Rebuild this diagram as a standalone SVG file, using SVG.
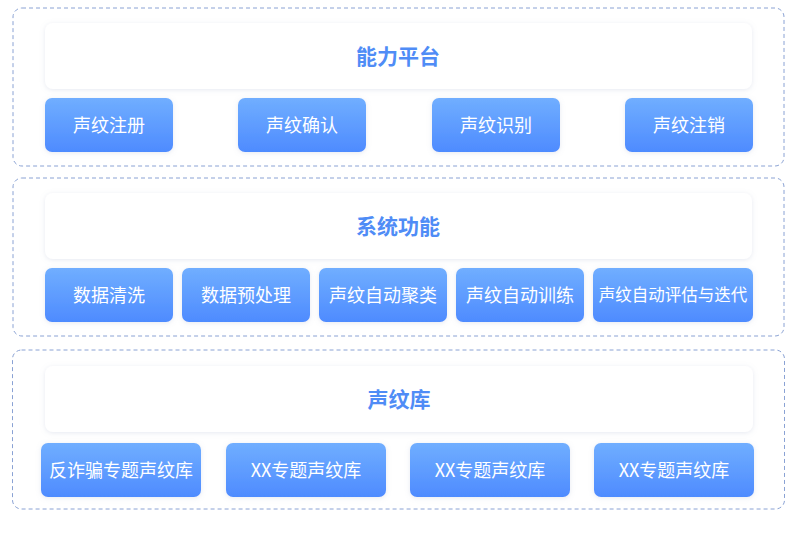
<svg xmlns="http://www.w3.org/2000/svg" width="800" height="537" viewBox="0 0 800 537">
<defs>
<linearGradient id="btn" x1="0" y1="0" x2="0" y2="1">
<stop offset="0" stop-color="#70aeff"/>
<stop offset="1" stop-color="#4e8bff"/>
</linearGradient>
<filter id="sh" x="-10%" y="-30%" width="120%" height="160%">
<feDropShadow dx="0" dy="1" stdDeviation="2.5" flood-color="#9aa8c8" flood-opacity="0.25"/>
</filter>
</defs>
<style>
.outer{fill:#fff;stroke:#8aa2d4;stroke-width:1;stroke-dasharray:4 3}
.head{fill:#fff;filter:url(#sh)}
.btn{fill:url(#btn);filter:url(#sh)}
.ht{font-family:"Noto Sans CJK SC","Noto Sans",sans-serif;font-size:21px;font-weight:bold;fill:#4f8cf6;text-anchor:middle;dominant-baseline:central}
.bt{font-family:"Noto Sans CJK SC","Noto Sans",sans-serif;font-size:18px;fill:#fff;text-anchor:middle;dominant-baseline:central}
</style>
<rect width="800" height="537" fill="#fff"/>
<g id="layer1">
<rect class="outer" x="13" y="8" width="771" height="158" rx="9"/>
<g id="h1"><rect class="head" x="45" y="23" width="707" height="66" rx="8"/><text class="ht" x="398" y="54.5">能力平台</text></g>
<g id="b11"><rect class="btn" x="45" y="98" width="128" height="54" rx="7"/><text class="bt" x="109" y="123.5">声纹注册</text></g>
<g id="b12"><rect class="btn" x="238" y="98" width="128" height="54" rx="7"/><text class="bt" x="302" y="123.5">声纹确认</text></g>
<g id="b13"><rect class="btn" x="432" y="98" width="128" height="54" rx="7"/><text class="bt" x="496" y="123.5">声纹识别</text></g>
<g id="b14"><rect class="btn" x="625" y="98" width="128" height="54" rx="7"/><text class="bt" x="689" y="123.5">声纹注销</text></g>
</g>
<g id="layer2">
<rect class="outer" x="13" y="178" width="771" height="158" rx="9"/>
<g id="h2"><rect class="head" x="45" y="193" width="707" height="66" rx="8"/><text class="ht" x="398" y="224.5">系统功能</text></g>
<g id="b21"><rect class="btn" x="45" y="268" width="128" height="54" rx="7"/><text class="bt" x="109" y="293.5">数据清洗</text></g>
<g id="b22"><rect class="btn" x="182" y="268" width="128" height="54" rx="7"/><text class="bt" x="246" y="293.5">数据预处理</text></g>
<g id="b23"><rect class="btn" x="319" y="268" width="128" height="54" rx="7"/><text class="bt" x="383" y="293.5">声纹自动聚类</text></g>
<g id="b24"><rect class="btn" x="456" y="268" width="128" height="54" rx="7"/><text class="bt" x="520" y="293.5">声纹自动训练</text></g>
<g id="b25"><rect class="btn" x="593" y="268" width="160" height="54" rx="7"/><text class="bt" x="673" y="293.5" style="font-size:16.5px">声纹自动评估与迭代</text></g>
</g>
<g id="layer3">
<rect class="outer" x="12.5" y="350" width="772" height="159" rx="9"/>
<g id="h3"><rect class="head" x="45" y="366" width="708" height="66" rx="8"/><text class="ht" x="399" y="397.5">声纹库</text></g>
<g id="b31"><rect class="btn" x="41" y="443" width="160" height="54" rx="7"/><text class="bt" x="121" y="468.5">反诈骗专题声纹库</text></g>
<g id="b32"><rect class="btn" x="226" y="443" width="160" height="54" rx="7"/><text class="bt" x="306" y="468.5">XX专题声纹库</text></g>
<g id="b33"><rect class="btn" x="410" y="443" width="160" height="54" rx="7"/><text class="bt" x="490" y="468.5">XX专题声纹库</text></g>
<g id="b34"><rect class="btn" x="594" y="443" width="160" height="54" rx="7"/><text class="bt" x="674" y="468.5">XX专题声纹库</text></g>
</g>
<g id="connectors"></g>
</svg>
